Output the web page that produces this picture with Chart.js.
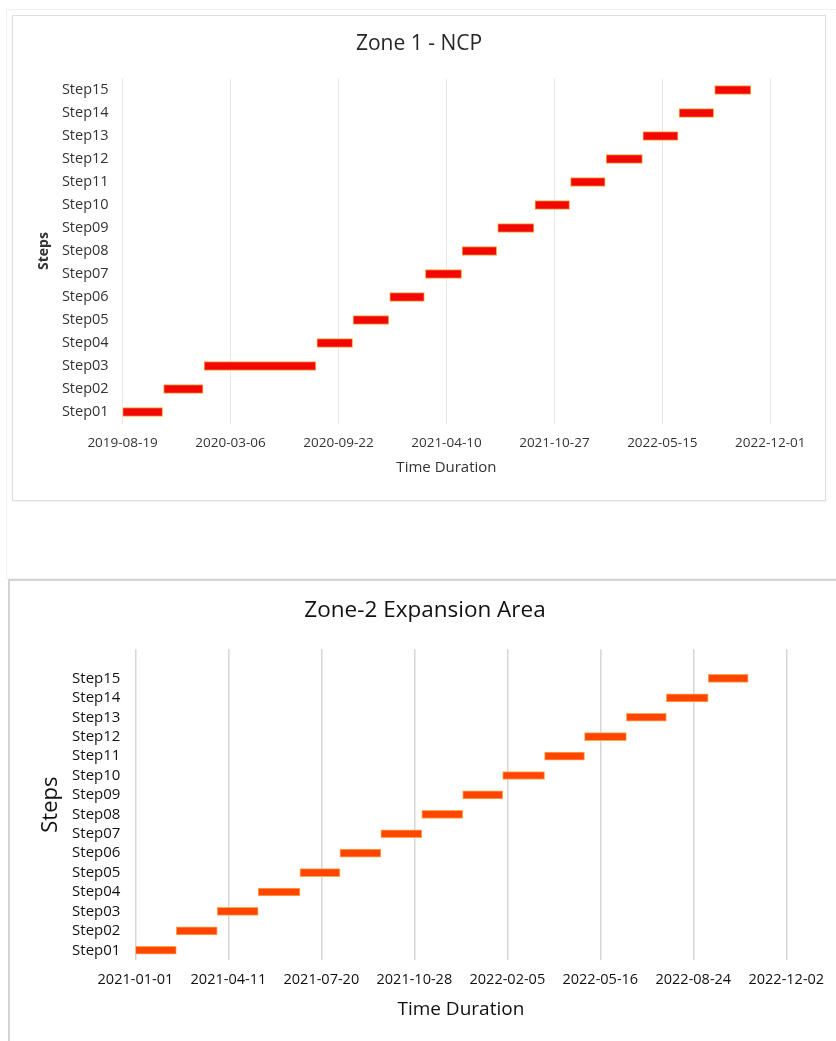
<!DOCTYPE html>
<html>
<head>
<meta charset="utf-8">
<script src="https://cdn.jsdelivr.net/npm/chart.js@4.4.1/dist/chart.umd.min.js"></script>
<style>
  html, body { margin: 0; padding: 0; background: #fff; overflow: hidden; }
  body { width: 836px; height: 1041px; position: relative; }
  .frame { position: absolute; box-sizing: border-box; }
  .box { position: absolute; }
</style>
</head>
<body>
<div class="frame" style="left:6px;top:9px;width:840px;height:570px;border:1px solid #f2f2f2;"></div>
<div class="frame" style="left:12px;top:15px;width:814px;height:486px;border:1px solid #dedede;box-shadow:0 1px 2px rgba(0,0,0,0.06);background:#fff;"></div>
<div class="frame" style="left:8px;top:579px;width:840px;height:480px;border:2px solid #d4d4d4;background:#fff;"></div>

<div class="box" style="left:12px;top:15px;width:814px;height:486px;"><canvas id="zone1"></canvas></div>
<div class="box" style="left:8px;top:579px;width:834px;height:470px;"><canvas id="zone2"></canvas></div>

<script>
// ----------------------------
// Zone 1 - NCP
// ----------------------------
const zone1Steps = ['Step01', 'Step02', 'Step03', 'Step04', 'Step05', 'Step06', 'Step07', 'Step08',
                    'Step09', 'Step10', 'Step11', 'Step12', 'Step13', 'Step14', 'Step15'];
const zone1Start = ['2019-08-19', '2019-11-03', '2020-01-17', '2020-08-13', '2020-10-19', '2020-12-26',
                    '2021-03-02', '2021-05-09', '2021-07-14', '2021-09-21', '2021-11-26', '2022-01-31',
                    '2022-04-09', '2022-06-15', '2022-08-20'];
const zone1End   = ['2019-11-01', '2020-01-15', '2020-08-11', '2020-10-18', '2020-12-24', '2021-02-28',
                    '2021-05-08', '2021-07-12', '2021-09-19', '2021-11-24', '2022-01-29', '2022-04-08',
                    '2022-06-13', '2022-08-18', '2022-10-26'];
const zone1Ticks = ['2019-08-19', '2020-03-06', '2020-09-22', '2021-04-10', '2021-10-27', '2022-05-15', '2022-12-01'];

// ----------------------------
// Zone-2 Expansion Area
// ----------------------------
const zone2Steps = ['Step01', 'Step02', 'Step03', 'Step04', 'Step05', 'Step06', 'Step07', 'Step08',
                    'Step09', 'Step10', 'Step11', 'Step12', 'Step13', 'Step14', 'Step15'];
const zone2Start = ['2021-01-01', '2021-02-14', '2021-03-30', '2021-05-13', '2021-06-27', '2021-08-09',
                    '2021-09-22', '2021-11-05', '2021-12-19', '2022-01-31', '2022-03-17', '2022-04-29',
                    '2022-06-13', '2022-07-26', '2022-09-09'];
const zone2End   = ['2021-02-14', '2021-03-30', '2021-05-13', '2021-06-27', '2021-08-09', '2021-09-22',
                    '2021-11-05', '2021-12-19', '2022-01-31', '2022-03-17', '2022-04-29', '2022-06-13',
                    '2022-07-26', '2022-09-09', '2022-10-22'];
const zone2Ticks = ['2021-01-01', '2021-04-11', '2021-07-20', '2021-10-28', '2022-02-05', '2022-05-16',
                    '2022-08-24', '2022-12-02'];

const FONT = "'Open Sans', 'Noto Sans', sans-serif";

function fmtDate(v) {
  return new Date(v).toISOString().slice(0, 10);
}

function criarGantt(id, cfg) {
  const bars = cfg.start.map((s, i) => [Date.parse(s), Date.parse(cfg.end[i])]);
  return new Chart(document.getElementById(id), {
    type: 'bar',
    data: {
      labels: cfg.labels,
      datasets: [{
        data: bars,
        backgroundColor: cfg.fill,
        borderColor: cfg.edge,
        borderWidth: 1,
        borderSkipped: false,
        barThickness: cfg.thickness
      }]
    },
    options: {
      indexAxis: 'y',
      responsive: true,
      maintainAspectRatio: false,
      animation: false,
      layout: { padding: 0 },
      plugins: {
        legend: { display: false },
        tooltip: { enabled: false },
        title: {
          display: true,
          text: cfg.title,
          color: cfg.titleColor,
          font: { family: FONT, size: cfg.titleSize, weight: 'normal' },
          padding: cfg.titlePad
        }
      },
      scales: {
        x: {
          type: 'linear',
          min: Date.parse(cfg.ticks[0]),
          max: Date.parse(cfg.ticks[cfg.ticks.length - 1]),
          afterBuildTicks: (scale) => {
            scale.ticks = cfg.ticks.map(t => ({ value: Date.parse(t) }));
          },
          afterFit: (scale) => { scale.height = cfg.xHeight; },
          grid: { display: true, color: cfg.gridColor, lineWidth: cfg.gridWidth, drawTicks: false },
          border: { display: false },
          ticks: {
            autoSkip: false,
            maxRotation: 0,
            padding: cfg.xTickPad,
            color: cfg.tickColor,
            font: { family: FONT, size: cfg.xTickSize },
            callback: (v) => fmtDate(v)
          },
          title: {
            display: true,
            text: 'Time Duration',
            color: cfg.axisColor,
            font: { family: FONT, size: cfg.xTitleSize },
            padding: { top: 0, bottom: cfg.xTitlePad }
          }
        },
        y: {
          reverse: true,
          afterFit: (scale) => { scale.width = cfg.yWidth; },
          grid: { display: false, drawTicks: false },
          border: { display: false },
          ticks: {
            autoSkip: false,
            padding: cfg.yTickPad,
            color: cfg.tickColor,
            font: { family: FONT, size: cfg.yTickSize }
          },
          title: {
            display: true,
            text: 'Steps',
            color: cfg.axisColor,
            font: { family: FONT, size: cfg.yTitleSize, weight: cfg.yTitleWeight },
            padding: { top: cfg.yTitlePad, bottom: 0 }
          }
        },
        // espaço vazio à direita (mantém o título centrado no quadro)
        margemDireita: {
          type: 'linear',
          position: 'right',
          afterFit: (scale) => { scale.width = cfg.rightGap; },
          grid: { display: false, drawTicks: false },
          border: { display: false },
          ticks: { display: false }
        }
      }
    }
  });
}

window.addEventListener('DOMContentLoaded', () => {
  criarGantt('zone1', {
    labels: zone1Steps,
    start: zone1Start,
    end: zone1End,
    ticks: zone1Ticks,
    title: 'Zone 1 - NCP',
    fill: '#f20800',
    edge: '#f7a640',
    thickness: 9,
    rightGap: 55.7,
    titleColor: '#262626',
    titleSize: 21,
    titlePad: { top: 16.9, bottom: 21.4 },
    xHeight: 77.5,
    gridColor: '#ebe5e5',
    gridWidth: 1,
    xTickPad: 11.4,
    tickColor: '#333333',
    xTickSize: 13.5,
    axisColor: '#333333',
    xTitleSize: 15,
    xTitlePad: 24.3,
    yWidth: 110.6,
    yTickPad: 14,
    yTickSize: 14.5,
    yTitleSize: 14,
    yTitleWeight: 'bold',
    yTitlePad: 23.6
  });

  criarGantt('zone2', {
    labels: zone2Steps.concat(['']),
    start: zone2Start,
    end: zone2End,
    ticks: zone2Ticks,
    title: 'Zone-2 Expansion Area',
    fill: '#ff4500',
    edge: '#ffa852',
    thickness: 8,
    rightGap: 55.7,
    titleColor: '#111111',
    titleSize: 22.5,
    titlePad: { top: 18.5, bottom: 24.8 },
    xHeight: 89,
    gridColor: '#d6d6d6',
    gridWidth: 1.5,
    xTickPad: 11.3,
    tickColor: '#111111',
    xTickSize: 14.5,
    axisColor: '#111111',
    xTitleSize: 19,
    xTitlePad: 27.6,
    yWidth: 127.4,
    yTickPad: 15,
    yTickSize: 15,
    yTitleSize: 22,
    yTitleWeight: 'normal',
    yTitlePad: 29.4
  });
});
</script>
</body>
</html>
